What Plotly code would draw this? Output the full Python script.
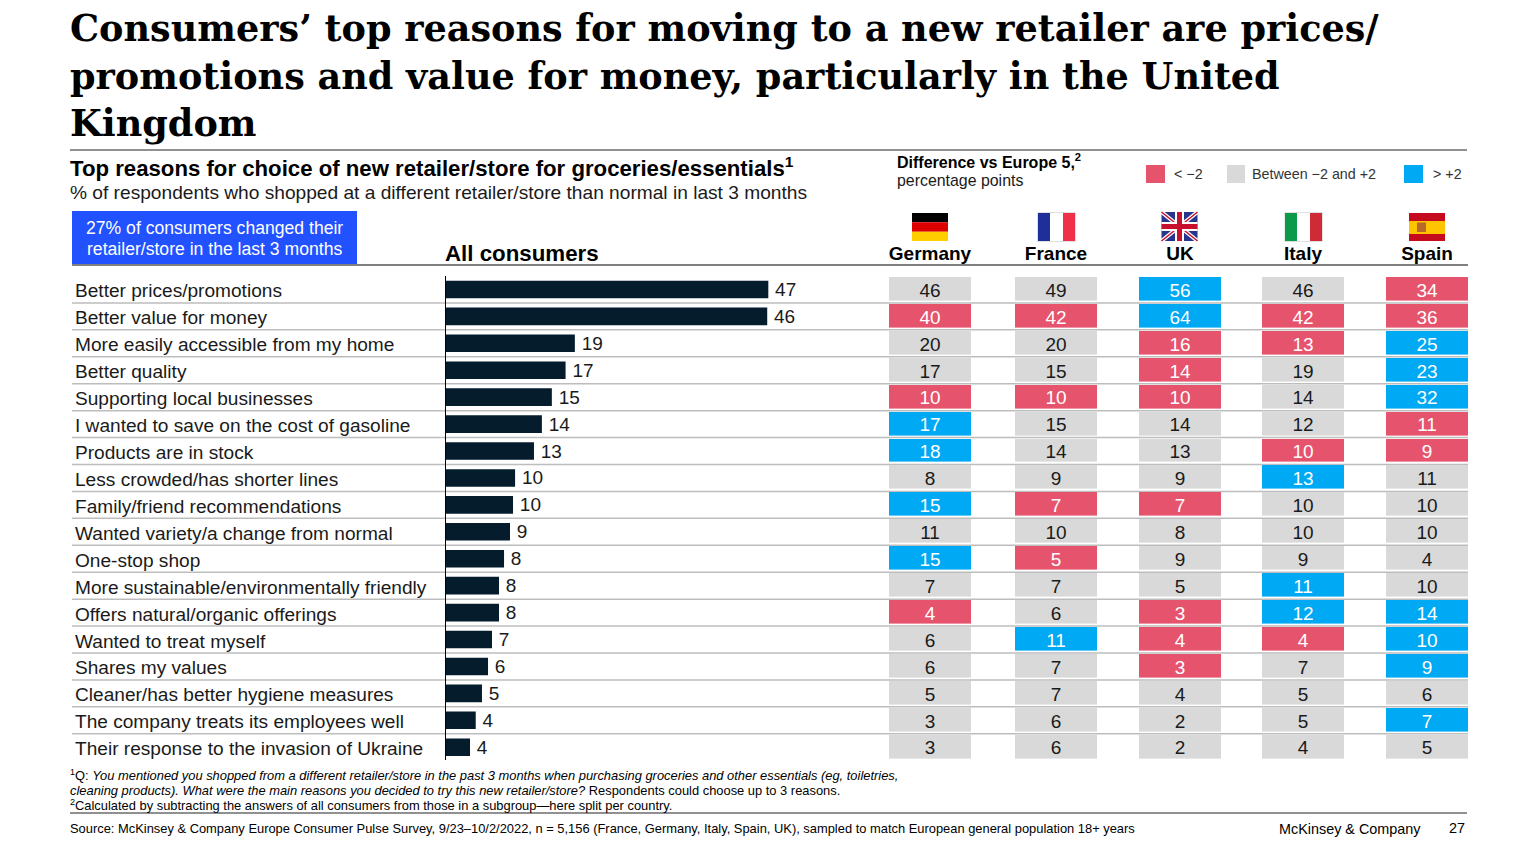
import plotly.graph_objects as go

W, H = 1536, 864

reasons = ['Better prices/promotions', 'Better value for money', 'More easily accessible from my home',
           'Better quality', 'Supporting local businesses', 'I wanted to save on the cost of gasoline',
           'Products are in stock', 'Less crowded/has shorter lines', 'Family/friend recommendations',
           'Wanted variety/a change from normal', 'One-stop shop', 'More sustainable/environmentally friendly',
           'Offers natural/organic offerings', 'Wanted to treat myself', 'Shares my values',
           'Cleaner/has better hygiene measures', 'The company treats its employees well',
           'Their response to the invasion of Ukraine']
# printed labels, and the unrounded lengths the bars are drawn at
all_consumers = [47, 46, 19, 17, 15, 14, 13, 10, 10, 9, 8, 8, 8, 7, 6, 5, 4, 4]
all_consumers_bar = [46.96, 46.8, 18.8, 17.45, 15.45, 14.0, 12.85, 10.1, 9.8, 9.36, 8.49, 7.76, 7.76, 6.74, 6.16,
                     5.28, 4.37, 3.54]

countries = ['Germany', 'France', 'UK', 'Italy', 'Spain']
germany = [46, 40, 20, 17, 10, 17, 18, 8, 15, 11, 15, 7, 4, 6, 6, 5, 3, 3]
france = [49, 42, 20, 15, 10, 15, 14, 9, 7, 10, 5, 7, 6, 11, 7, 7, 6, 6]
uk = [56, 64, 16, 14, 10, 14, 13, 9, 7, 8, 9, 5, 3, 4, 3, 4, 2, 2]
italy = [46, 42, 13, 19, 14, 12, 10, 13, 10, 10, 9, 11, 12, 4, 7, 5, 5, 4]
spain = [34, 36, 25, 23, 32, 11, 9, 11, 10, 10, 4, 10, 14, 10, 9, 6, 7, 5]

# band of each cell as shown: -1 below, 0 between, 1 above
germany_band = [0, -1, 0, 0, -1, 1, 1, 0, 1, 0, 1, 0, -1, 0, 0, 0, 0, 0]
france_band = [0, -1, 0, 0, -1, 0, 0, 0, -1, 0, -1, 0, 0, 1, 0, 0, 0, 0]
uk_band = [1, 1, -1, -1, -1, 0, 0, 0, -1, 0, 0, 0, -1, -1, -1, 0, 0, 0]
italy_band = [0, -1, -1, 0, 0, 0, -1, 1, 0, 0, 0, 1, 1, -1, 0, 0, 0, 0]
spain_band = [-1, -1, 1, 1, 1, -1, -1, 0, 0, 0, 0, 0, 1, 1, 1, 0, 1, 0]

values = [germany, france, uk, italy, spain]
bands = [germany_band, france_band, uk_band, italy_band, spain_band]

PINK, GRAY, BLUE = '#E5546C', '#D9D9D9', '#00A9F4'
NAVY = '#051C2C'
FONT = 'Liberation Sans'
SERIF = 'DejaVu Serif'

# pixel positions of the table columns
cols = [(889, 971), (1015, 1097), (1139, 1221), (1262, 1344), (1386, 1468)]
row_top, row_bottom = 276.0, 760.7


def px(x):
    return x / W


def py(y):
    return 1 - y / H


shapes = []
annotations = []


def rect(x0, y0, x1, y1, color):
    shapes.append(dict(type='rect', xref='paper', yref='paper', x0=px(x0), x1=px(x1), y0=py(y0), y1=py(y1),
                       fillcolor=color, line=dict(width=0), layer='above'))


def line(x0, y0, x1, y1, color, width=1):
    shapes.append(dict(type='line', xref='paper', yref='paper', x0=px(x0), x1=px(x1), y0=py(y0), y1=py(y1),
                       line=dict(color=color, width=width), layer='above'))


def note(x, y, text, size, color='#000000', anchor='left', family=FONT):
    annotations.append(dict(x=px(x), y=py(y), xref='paper', yref='paper', text=text, showarrow=False,
                            xanchor=anchor, yanchor='middle', font=dict(family=family, size=size, color=color)))


fig = go.Figure()

# bars
fig.add_trace(go.Bar(x=all_consumers_bar, y=reasons, orientation='h', marker=dict(color=NAVY, line=dict(width=0)),
                     width=0.654, text=[f'\u2009{v}' for v in all_consumers], textposition='outside',
                     cliponaxis=False, constraintext='none',
                     textfont=dict(family=FONT, size=19, color='#1a1a1a'), xaxis='x', yaxis='y'))

layout_axes = {}
for i, name in enumerate(countries):
    axis = f'x{i + 2}'
    fig.add_trace(go.Heatmap(x=[name], y=reasons, z=[[b] for b in bands[i]], zmin=-1, zmax=1, ygap=3.4,
                             colorscale=[[0, PINK], [0.33, PINK], [0.33, GRAY], [0.67, GRAY], [0.67, BLUE], [1, BLUE]],
                             showscale=False, xaxis=axis, yaxis='y'))
    fig.add_trace(go.Scatter(x=[name] * len(reasons), y=reasons, mode='text', text=values[i], cliponaxis=False,
                             textfont=dict(family=FONT, size=19,
                                           color=['#1a1a1a' if b == 0 else '#FFFFFF' for b in bands[i]]),
                             xaxis=axis, yaxis='y2'))
    layout_axes[f'xaxis{i + 2}'] = dict(domain=[px(cols[i][0]), px(cols[i][1])], anchor='y', side='top',
                                        range=[-0.5, 0.5], showgrid=False, zeroline=False, ticks='outside',
                                        ticklen=7, tickcolor='rgba(0,0,0,0)',
                                        tickfont=dict(family=FONT, size=19, color='#000000'),
                                        tickvals=[name], ticktext=[f'<b>{name}</b>'])

# row labels and separators
for i, reason in enumerate(reasons):
    annotations.append(dict(x=px(73), y=reason, xref='paper', yref='y', text=reason, showarrow=False, yshift=-1.5,
                            xanchor='left', yanchor='middle', font=dict(family=FONT, size=19.1, color='#1a1a1a')))
    if i < len(reasons) - 1:
        shapes.append(dict(type='line', xref='paper', yref='y', x0=px(72), x1=px(1468), y0=i + 0.5, y1=i + 0.5,
                           line=dict(color='#BDBDBD', width=1.5), layer='below'))

# title
title_lines = ['Consumers’ top reasons for moving to a new retailer are prices/',
               'promotions and value for money, particularly in the United',
               'Kingdom']
for i, t in enumerate(title_lines):
    note(67.5, 28 + 48 * i, f'<b>{t}</b>', 36.6, family=SERIF)

line(70, 150, 1467, 150, '#222222', 1)
note(67.5, 167.5, '<b>Top reasons for choice of new retailer/store for groceries/essentials<sup>1</sup></b>', 22.2)
note(67.5, 192.5, '% of respondents who shopped at a different retailer/store than normal in last 3 months', 19.15, '#1a1a1a')

# callout
rect(72, 211, 357, 265, '#2251FF')
note(214, 228, '27% of consumers changed their', 17.6, '#FFFFFF', 'center')
note(214, 249, 'retailer/store in the last 3 months', 17.6, '#FFFFFF', 'center')
note(443, 254, '<b>All consumers</b>', 22.3)
line(72, 265, 1468, 265, '#808080', 2)

# legend
note(894.5, 161, '<b>Difference vs Europe 5,<sup>2</sup></b>', 16)
note(894.5, 181, 'percentage points', 15.9, '#1a1a1a')
rect(1146, 165, 1165, 183, PINK)
note(1171.5, 174, '&lt; −2', 14.3, '#333333')
rect(1227, 165, 1245, 183, GRAY)
note(1249.5, 174, 'Between −2 and +2', 14.3, '#333333')
rect(1404, 165, 1423, 183, BLUE)
note(1430.5, 174, '&gt; +2', 14.3, '#333333')

# flags
fy0, fy1 = 213, 241
rect(912, fy0, 948, fy0 + 9.33, '#000000')
rect(912, fy0 + 9.33, 948, fy0 + 18.67, '#DD0000')
rect(912, fy0 + 18.67, 948, fy1, '#FFCE00')

rect(1037.3, fy0 - 0.7, 1075.7, fy1 + 0.7, '#D5D5D5')
rect(1038, fy0, 1050, fy1, '#1F2F9A')
rect(1050, fy0, 1063, fy1, '#FFFFFF')
rect(1063, fy0, 1075, fy1, '#F0304A')

uy0 = 212
rect(1161.5, uy0, 1197.5, fy1, '#27358C')
line(1161.5, uy0, 1197.5, fy1, '#FFFFFF', 4)
line(1161.5, fy1, 1197.5, uy0, '#FFFFFF', 4)
line(1161.5, uy0, 1197.5, fy1, '#C8102E', 1.5)
line(1161.5, fy1, 1197.5, uy0, '#C8102E', 1.5)
rect(1175, uy0, 1184, fy1, '#FFFFFF')
rect(1161.5, uy0 + 10, 1197.5, fy1 - 10, '#FFFFFF')
rect(1177, uy0, 1182, fy1, '#C8102E')
rect(1161.5, uy0 + 12, 1197.5, fy1 - 12, '#C8102E')

rect(1284.5, fy0 - 0.7, 1322.7, fy1 + 0.7, '#D5D5D5')
rect(1285, fy0, 1297, fy1, '#0B9A4A')
rect(1297, fy0, 1310, fy1, '#FFFFFF')
rect(1310, fy0, 1322, fy1, '#CE2B37')

rect(1409, fy0, 1445, fy1, '#C60B1E')
rect(1409, fy0 + 8, 1445, fy1 - 7, '#FFC400')
rect(1417, fy0 + 9.5, 1426, fy1 - 9, '#B8682A')

# footnotes
note(67.5, 775, '<sup>1</sup>Q: <i>You mentioned you shopped from a different retailer/store in the past 3 months when '
                'purchasing groceries and other essentials (eg, toiletries,</i>', 12.9)
note(67.5, 790, '<i>cleaning products). What were the main reasons you decided to try this new retailer/store?</i> '
                'Respondents could choose up to 3 reasons.', 12.9)
note(67.5, 805, '<sup>2</sup>Calculated by subtracting the answers of all consumers from those in a subgroup—here split per country.', 12.9)
line(70, 813, 1467, 813, '#222222', 1)
note(67.5, 828, 'Source: McKinsey &amp; Company Europe Consumer Pulse Survey, 9/23–10/2/2022, n = 5,156 '
                '(France, Germany, Italy, Spain, UK), sampled to match European general population 18+ years', 12.9)
note(1276.5, 829, 'McKinsey &amp; Company', 14.4)
note(1467, 828, '27', 14.4, anchor='right')

line(445.5, 276, 445.5, 760, '#000000', 1)

fig.update_layout(
    width=W, height=H, margin=dict(l=0, r=0, t=0, b=0), paper_bgcolor='white', plot_bgcolor='rgba(0,0,0,0)',
    showlegend=False, shapes=shapes, annotations=annotations,
    xaxis=dict(domain=[px(445.7), px(880)], range=[0, (880 - 445.7) / 6.87], visible=False),
    yaxis=dict(domain=[py(row_bottom), py(row_top)], type='category', categoryorder='array', categoryarray=reasons,
               range=[17.5, -0.5], showticklabels=False, showgrid=False, zeroline=False, ticks='',
               anchor='x', side='left', showline=False),
    # same rows, set 2.5px lower so the cell numbers sit centred in their cells
    yaxis2=dict(domain=[py(row_bottom + 2.5), py(row_top + 2.5)], type='category', categoryorder='array',
                categoryarray=reasons, range=[17.5, -0.5], visible=False, anchor='x'),
    **layout_axes,
)

fig.write_html("out.html", config=dict(displayModeBar=False), post_script="document.body.style.margin='0';window.dispatchEvent(new Event('resize'));")
